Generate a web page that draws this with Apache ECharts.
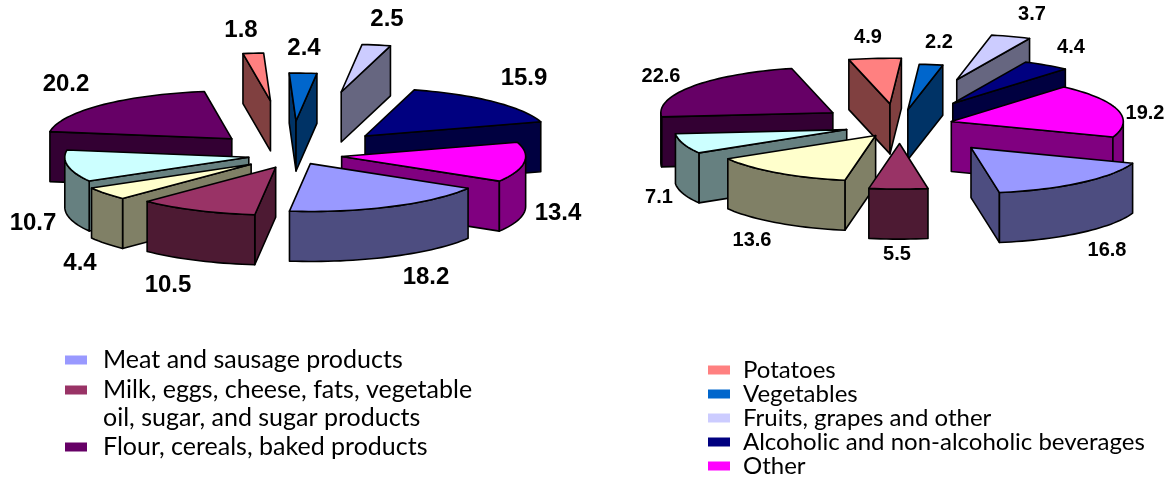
<!DOCTYPE html>
<html><head><meta charset="utf-8">
<style>html,body{margin:0;padding:0;background:#fff}#c{width:1173px;height:478px}</style>
<script src="https://cdn.jsdelivr.net/npm/echarts@6/dist/echarts.min.js"></script>
</head><body><div id="c"></div>
<script>
// ---- data ----
const categories = [
  'Meat and sausage products',
  'Milk, eggs, cheese, fats, vegetable oil, sugar, and sugar products',
  'Pale yellow slice (no legend entry)',
  'Pale cyan slice (no legend entry)',
  'Flour, cereals, baked products',
  'Potatoes',
  'Vegetables',
  'Fruits, grapes and other',
  'Alcoholic and non-alcoholic beverages',
  'Other'
];
const leftValues  = [18.2, 10.5, 4.4, 10.7, 20.2, 1.8, 2.4, 2.5, 15.9, 13.4];
const rightValues = [16.8, 5.5, 13.6, 7.1, 22.6, 4.9, 2.2, 3.7, 4.4, 19.2];
const leftLegendTop = [categories[0], categories[1]];
const leftLegendBottom = [categories[4]];
const rightLegend = [categories[5], categories[6], categories[7], categories[8], categories[9]];

// ---- styling and layout (not data) ----
const colors = ['#9999FF','#993366','#FFFFCC','#CCFFFF','#660066','#FF8080','#0066CC','#CCCCFF','#000080','#FF00FF'];
const leftPie = {
  values: leftValues, cx: 294, cy: 155, rx: 184, tilt: 0.26, depth: 50, start: 121,
  pull: [37, 52, 58, 47, 88, 209, 131, 247, 102, 48],
  driftX: [0, 4, 3, 1, 0, -4, -3, 0, 0, 0],
  labelSize: 24,
  labels: [[426,277],[168,285],[80,263],[33,223],[66,84],[241,30],[304,48],[387,19],[524,78],[558,213]]
};
const rightPie = {
  values: rightValues, cx: 900, cy: 125, rx: 172, tilt: 0.265, depth: 50, start: 110,
  pull: [111, 70, 48, 56, 80, 80, 58, 180, 97, 53],
  driftX: [0, 0, 3, 0, -2, -3, 0, 0, 0, 0],
  labelSize: 20,
  labels: [[1107,250],[897,254],[752,240],[659,197],[661,76],[868,37],[939,42],[1032,14],[1071,47],[1145,113]]
};

function halve(hex) {
  const n = parseInt(hex.slice(1), 16);
  const h = v => Math.round(v / 2).toString(16).padStart(2, '0');
  return '#' + h(n >> 16) + h((n >> 8) & 255) + h(n & 255);
}

function sliceSeries(pie) {
  const total = pie.values.reduce((a, b) => a + b, 0);
  let acc = 0;
  const items = pie.values.map((v, i) => {
    const a0 = pie.start + acc / total * 360;
    acc += v;
    return { i, v, a0, a1: pie.start + acc / total * 360 };
  });
  const rad = d => d * Math.PI / 180;
  const order = items.slice().sort((p, q) => {
    const m = s => -Math.cos(rad((s.a0 + s.a1) / 2));
    return m(p) - m(q);
  });
  return order.map(item => ({
    type: 'custom',
    name: categories[item.i],
    coordinateSystem: 'none',
    silent: true,
    animation: false,
    clip: false,
    itemStyle: { color: colors[item.i] },
    data: [[item.v]],
    renderItem: function (params, api) {
      const value = api.value(0);
      const a0 = item.a0, a1 = a0 + value / total * 360;
      const mid = (a0 + a1) / 2;
      const E = pie.pull[item.i];
      const ax = pie.cx + Math.sin(rad(mid)) * E + pie.driftX[item.i];
      const ay = pie.cy - Math.cos(rad(mid)) * E * pie.tilt;
      const pt = d => [ax + Math.sin(rad(d)) * pie.rx, ay - Math.cos(rad(d)) * pie.rx * pie.tilt];
      const arc = (from, to) => {
        const n = Math.max(2, Math.ceil(Math.abs(to - from) / 2));
        const out = [];
        for (let k = 0; k <= n; k++) out.push(pt(from + (to - from) * k / n));
        return out;
      };
      const wall = halve(colors[item.i]);
      const lineStyle = { stroke: '#000', lineWidth: 1.6, lineJoin: 'round' };
      const down = p => [p[0], p[1] + pie.depth];
      const children = [];
      const poly = (points, fill) => children.push({
        type: 'polygon', shape: { points }, style: Object.assign({ fill }, lineStyle)
      });
      // rear cut walls first, so the nearer faces overdraw them
      const cutWall = (d, other) => {
        const p = pt(d), m = pt(other);
        const ex = (p[0] - ax), ey = (p[1] - ay) / pie.tilt;
        const mx = (m[0] - ax), my = (m[1] - ay) / pie.tilt;
        let nx = -ey, ny = ex;
        if (nx * mx + ny * my > 0) { nx = -nx; ny = -ny; }
        if (ny > 0) poly([[ax, ay], p, down(p), [ax, ay + pie.depth]], wall);
      };
      cutWall(a0, mid);
      cutWall(a1, mid);
      // outer rim: only the part of the arc that faces the viewer
      for (let base = -270; base <= 810; base += 360) {
        const from = Math.max(a0, base), to = Math.min(a1, base + 180);
        if (to > from) {
          const top = arc(from, to);
          poly(top.concat(top.slice().reverse().map(down)), wall);
        }
      }
      poly([[ax, ay]].concat(arc(a0, a1)), colors[item.i]);
      const at = pie.labels[item.i];
      children.push({
        type: 'text',
        style: {
          text: String(value), x: at[0], y: at[1], fill: '#000',
          font: 'bold ' + pie.labelSize + 'px "Liberation Sans", Arial, sans-serif',
          align: 'center', verticalAlign: 'middle'
        }
      });
      return { type: 'group', children };
    }
  }));
}

const legendFont = { fontFamily: 'Lato', fontSize: 25, color: '#000' };
const firstLine = name => name.replace(' oil, sugar, and sugar products', '');
const baseLegend = {
  orient: 'vertical', icon: 'rect', itemWidth: 22, itemHeight: 9,
  selectedMode: false, padding: 0, textStyle: legendFont, formatter: firstLine
};
const chart = echarts.init(document.getElementById('c'), null, { renderer: 'canvas' });
chart.setOption({
  animation: false,
  backgroundColor: '#fff',
  legend: [
    Object.assign({}, baseLegend, { data: leftLegendTop, left: 65, top: 346, itemGap: 2, textStyle: Object.assign({}, legendFont, { padding: [0, 0, 0, 11], lineHeight: 28 }) }),
    Object.assign({}, baseLegend, { data: leftLegendBottom, left: 65, top: 433, textStyle: Object.assign({}, legendFont, { padding: [0, 0, 0, 11], lineHeight: 28 }) }),
    Object.assign({}, baseLegend, { data: rightLegend, left: 708, top: 358, itemGap: 0, textStyle: Object.assign({}, legendFont, { fontSize: 24, padding: [0, 0, 0, 8], lineHeight: 24 }) })
  ],
  graphic: [{
    type: 'text', left: 103, top: 405,
    style: { text: 'oil, sugar, and sugar products', font: '25px Lato', fill: '#000' }
  }],
  series: sliceSeries(leftPie).concat(sliceSeries(rightPie))
});
</script></body></html>
